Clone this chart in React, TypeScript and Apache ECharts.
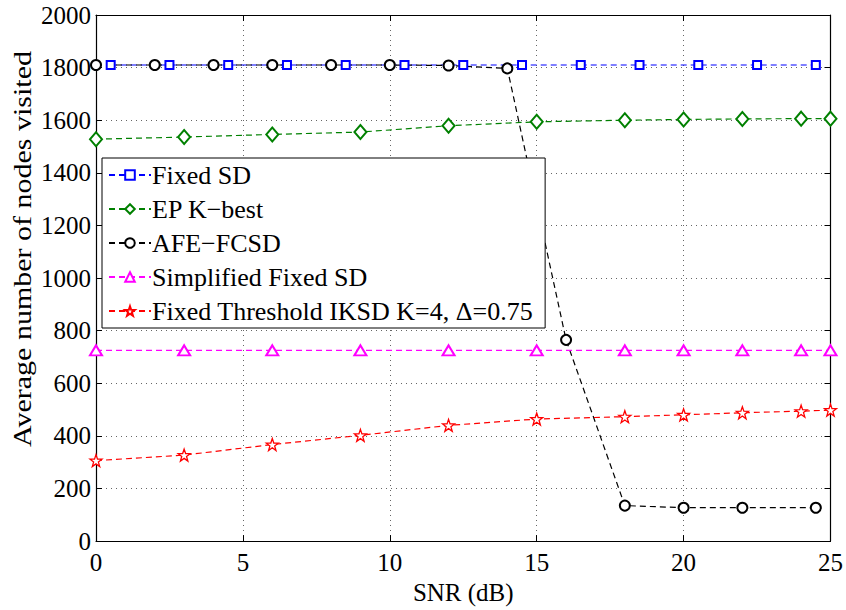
import React, { useEffect, useRef } from "react";
import * as echarts from "echarts";

// SNR sample points for each detector
const snrFixedSD = [0.5, 2.5, 4.5, 6.5, 8.5, 10.5, 12.5, 14.5, 16.5, 18.5, 20.5, 22.5, 24.5];
const nodesFixedSD = [1810, 1810, 1810, 1810, 1810, 1810, 1810, 1810, 1810, 1810, 1810, 1810, 1810];

const snrEP = [0, 3, 6, 9, 12, 15, 18, 20, 22, 24, 25];
const nodesEP = [1528, 1536, 1546, 1555, 1579, 1594, 1600, 1603, 1605, 1606, 1606];

const snrAFE = [0, 2, 4, 6, 8, 10, 12, 14, 16, 18, 20, 22, 24.5];
const nodesAFE = [1810, 1810, 1810, 1810, 1810, 1810, 1808, 1797, 765, 135, 127, 127, 127];

const snrSimplified = [0, 3, 6, 9, 12, 15, 18, 20, 22, 24, 25];
const nodesSimplified = [725, 725, 725, 725, 725, 725, 725, 725, 725, 725, 725];

const snrThreshold = [0, 3, 6, 9, 12, 15, 18, 20, 22, 24, 25];
const nodesThreshold = [306, 327, 367, 402, 440, 464, 473, 480, 488, 494, 498];

const seriesNames = [
  "Fixed SD",
  "EP K\u2212best",
  "AFE\u2212FCSD",
  "Simplified Fixed SD",
  "Fixed Threshold IKSD K=4, \u0394=0.75",
];

const xTitle = "SNR (dB)";
const yTitle = "Average number of nodes visited";

const STAR =
  "path://M0,-10L2.35,-3.24L9.51,-3.09L3.8,1.24L5.88,8.09L0,4L-5.88,8.09L-3.8,1.24L-9.51,-3.09L-2.35,-3.24Z";

const FONT = "'Liberation Serif', 'Times New Roman', serif";

function pairs(xs: number[], ys: number[]) {
  return xs.map((x, i) => [x, ys[i]]);
}

export default function App() {
  const ref = useRef<HTMLDivElement>(null);

  useEffect(() => {
    if (!ref.current) return;
    const chart = echarts.init(ref.current, undefined, { renderer: "svg" });

    const dash = [6, 4];
    const mk = (
      name: string,
      xs: number[],
      ys: number[],
      color: string,
      symbol: string,
      size: number | number[],
      extra: any = {}
    ) => ({
      name,
      type: "line",
      data: pairs(xs, ys),
      symbol,
      symbolSize: size,
      showAllSymbol: true,
      lineStyle: { color, width: 1.2, type: dash },
      itemStyle: { color, borderColor: color, borderWidth: 1.3 },
      z: 3,
      ...extra,
    });

    const axisCommon = {
      min: 0,
      axisLine: { show: true, onZero: false, lineStyle: { color: "#000", width: 1.2 } },
      axisTick: { show: true, inside: true, length: 6, lineStyle: { color: "#000" } },
    };

    chart.setOption({
      animation: false,
      backgroundColor: "#fff",
      textStyle: { fontFamily: FONT },
      grid: { left: 96, right: 14, top: 15, bottom: 60, containLabel: false },
      legend: {
        orient: "vertical",
        left: 102,
        top: 158,
        data: seriesNames,
        backgroundColor: "#fff",
        borderColor: "#000",
        borderWidth: 1,
        borderRadius: 0,
        padding: [4, 12, 4, 6],
        itemGap: 8,
        itemWidth: 42,
        itemHeight: 12,
        textStyle: { fontFamily: FONT, fontSize: 26, color: "#000", padding: [0, 0, 0, -4] },
      },
      graphic: [
        {
          type: "text",
          x: 22,
          y: 249,
          rotation: Math.PI / 2,
          scaleX: 1.2,
          z: 10,
          style: {
            text: yTitle,
            font: "25px " + FONT,
            fill: "#000",
            align: "center",
            verticalAlign: "middle",
          },
        },
      ],
      xAxis: [
        {
          ...axisCommon,
          type: "value",
          max: 25,
          interval: 5,
          position: "bottom",
          name: xTitle,
          nameLocation: "middle",
          nameGap: 31,
          nameTextStyle: { fontFamily: FONT, fontSize: 25, color: "#000" },
          axisLabel: { fontFamily: FONT, fontSize: 25, color: "#000", margin: 9 },
          splitLine: { show: true, lineStyle: { color: "#666", type: [1, 4], width: 1 } },
        },
        {
          ...axisCommon,
          type: "value",
          max: 25,
          interval: 5,
          position: "top",
          axisLabel: { show: false },
          splitLine: { show: false },
        },
      ],
      yAxis: [
        {
          ...axisCommon,
          type: "value",
          max: 2000,
          interval: 200,
          position: "left",
          axisLabel: {
            fontFamily: FONT,
            fontSize: 25,
            color: "#000",
            margin: 5,
            formatter: (v: number) => String(v),
          },
          splitLine: { show: true, lineStyle: { color: "#666", type: [1, 4], width: 1 } },
        },
        {
          ...axisCommon,
          type: "value",
          max: 2000,
          interval: 200,
          position: "right",
          axisLabel: { show: false },
          splitLine: { show: false },
        },
      ],
      series: [
        mk(seriesNames[0], snrFixedSD, nodesFixedSD, "#0000ff", "emptyRect", 8),
        mk(seriesNames[1], snrEP, nodesEP, "#008000", "emptyDiamond", [12, 14]),
        mk(seriesNames[2], snrAFE, nodesAFE, "#000000", "emptyCircle", 10),
        mk(seriesNames[3], snrSimplified, nodesSimplified, "#ff00ff", "emptyTriangle", [12, 10]),
        mk(seriesNames[4], snrThreshold, nodesThreshold, "#ff0000", STAR, 12, {
          itemStyle: { color: "#fff", borderColor: "#ff0000", borderWidth: 1.3 },
        }),
      ],
    });

    return () => chart.dispose();
  }, []);

  return (
    <div
      ref={ref}
      style={{ position: "fixed", left: 0, top: 0, width: 846, height: 610 }}
    />
  );
}
